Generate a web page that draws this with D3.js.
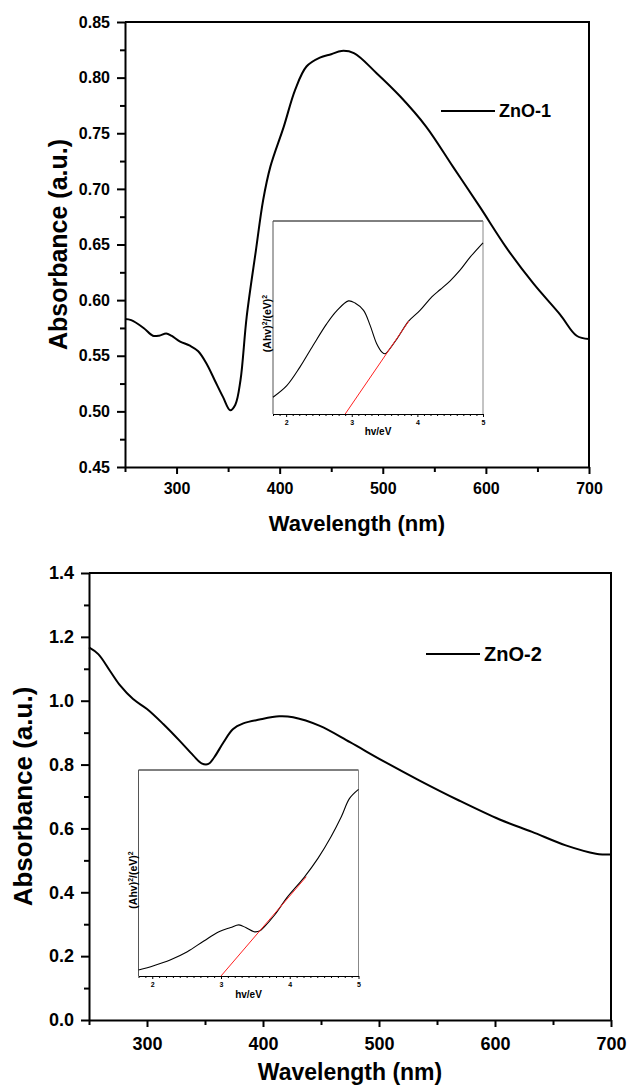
<!DOCTYPE html>
<html>
<head>
<meta charset="utf-8">
<script src="https://cdn.jsdelivr.net/npm/d3@7"></script>
<style>
  body { margin: 0; background: #fff; }
  svg { display: block; font-family: "Liberation Sans", Arial, sans-serif; }
</style>
</head>
<body>
<div id="chart"></div>
<script>
// ZnO-1 absorption spectrum
const zno1Wavelength = [250, 256, 268, 277, 283, 290, 295, 303, 313, 321, 329, 337, 345, 352, 357, 362, 368, 377, 384, 391, 404, 415, 426, 439, 450, 460, 472, 494, 517, 542, 568, 594, 620, 646, 672, 688, 700];
const zno1Abs = [0.583, 0.582, 0.575, 0.568, 0.568, 0.570, 0.568, 0.563, 0.559, 0.554, 0.543, 0.528, 0.513, 0.501, 0.506, 0.528, 0.585, 0.645, 0.690, 0.720, 0.756, 0.789, 0.810, 0.818, 0.821, 0.824, 0.822, 0.804, 0.783, 0.756, 0.720, 0.684, 0.647, 0.615, 0.587, 0.568, 0.565];

// ZnO-2 absorption spectrum
const zno2Wavelength = [250, 258, 268, 277, 288, 300, 314, 328, 340, 347, 353, 358, 366, 374, 383, 397, 414, 426, 449, 475, 503, 535, 569, 604, 632, 661, 687, 700];
const zno2Abs = [1.167, 1.146, 1.094, 1.047, 1.005, 0.974, 0.927, 0.875, 0.828, 0.804, 0.802, 0.823, 0.870, 0.911, 0.929, 0.941, 0.951, 0.948, 0.921, 0.870, 0.8125, 0.75, 0.6875, 0.628, 0.589, 0.547, 0.521, 0.518];

// Tauc plots (insets), y in relative units
const inset1Energy = [1.8, 2.01, 2.21, 2.41, 2.62, 2.77, 2.95, 3.05, 3.18, 3.28, 3.38, 3.46, 3.51, 3.56, 3.69, 3.87, 4.04, 4.22, 4.35, 4.50, 4.65, 4.81, 5.0];
const inset1Value = [0.087, 0.147, 0.243, 0.355, 0.468, 0.534, 0.586, 0.575, 0.537, 0.459, 0.364, 0.321, 0.312, 0.329, 0.390, 0.482, 0.537, 0.607, 0.645, 0.690, 0.745, 0.815, 0.887];
const inset1FitEnergy = [2.90, 3.87];
const inset1FitValue = [0, 0.482];

const inset2Energy = [1.8, 2.02, 2.26, 2.51, 2.75, 2.97, 3.14, 3.26, 3.36, 3.48, 3.56, 3.63, 3.78, 3.97, 4.21, 4.41, 4.60, 4.75, 4.87, 5.0];
const inset2Value = [0.029, 0.050, 0.078, 0.118, 0.170, 0.215, 0.235, 0.248, 0.235, 0.215, 0.218, 0.239, 0.296, 0.385, 0.479, 0.571, 0.676, 0.773, 0.862, 0.906];
const inset2FitEnergy = [3.0, 4.24];
const inset2FitValue = [0, 0.482];

// tick labels
const xTicks = [300, 400, 500, 600, 700];
const xMinor = [250, 350, 450, 550, 650];
const y1Ticks = [0.45, 0.50, 0.55, 0.60, 0.65, 0.70, 0.75, 0.80, 0.85];
const y1Minor = [0.475, 0.525, 0.575, 0.625, 0.675, 0.725, 0.775, 0.825];
const y2Ticks = [0.0, 0.2, 0.4, 0.6, 0.8, 1.0, 1.2, 1.4];
const y2Minor = [0.1, 0.3, 0.5, 0.7, 0.9, 1.1, 1.3];
const insetTicks = [2, 3, 4, 5];
const insetMinor = [1.8, 1.9, 2.1, 2.2, 2.3, 2.4, 2.5, 2.6, 2.7, 2.8, 2.9, 3.1, 3.2, 3.3, 3.4, 3.5, 3.6, 3.7, 3.8, 3.9, 4.1, 4.2, 4.3, 4.4, 4.5, 4.6, 4.7, 4.8, 4.9];

const svg = d3.select('#chart').append('svg')
  .attr('width', 627)
  .attr('height', 1086);

function drawPanel(p) {
  const x = d3.scaleLinear().domain([250, 700]).range([p.left, p.right]);
  const y = d3.scaleLinear().domain(p.yDomain).range([p.bottom, p.top]);
  const g = svg.append('g');

  // frame top + right
  g.append('path')
    .attr('d', `M${p.left},${p.top}H${p.right}V${p.bottom}`)
    .attr('fill', 'none').attr('stroke', '#000').attr('stroke-width', 2);

  // minor ticks
  g.append('g')
    .attr('transform', `translate(0,${p.bottom})`)
    .call(d3.axisBottom(x).tickValues(xMinor).tickSize(5).tickFormat(''))
    .call(a => a.select('.domain').remove())
    .selectAll('line').attr('stroke-width', 2);
  g.append('g')
    .attr('transform', `translate(${p.left},0)`)
    .call(d3.axisLeft(y).tickValues(p.yMinor).tickSize(5).tickFormat(''))
    .call(a => a.select('.domain').remove())
    .selectAll('line').attr('stroke-width', 2);

  // major axes
  const xa = g.append('g')
    .attr('transform', `translate(0,${p.bottom})`)
    .call(d3.axisBottom(x).tickValues(xTicks).tickSize(7).tickSizeOuter(0).tickPadding(p.xPad));
  const ya = g.append('g')
    .attr('transform', `translate(${p.left},0)`)
    .call(d3.axisLeft(y).tickValues(p.yTicks).tickSize(8).tickSizeOuter(0).tickPadding(7).tickFormat(d3.format(p.yFmt)));
  [xa, ya].forEach(a => {
    a.select('.domain').attr('stroke-width', 2);
    a.selectAll('line').attr('stroke-width', 2);
    a.selectAll('text')
      .attr('font-family', '"Liberation Sans", Arial, sans-serif')
      .attr('font-weight', 'bold')
      .attr('font-size', p.tickFont)
      .attr('fill', '#000');
  });

  // curve
  const data = p.xs.map((d, i) => [d, p.ys[i]]);
  g.append('path')
    .datum(data)
    .attr('fill', 'none').attr('stroke', '#000').attr('stroke-width', 2)
    .attr('d', d3.line().x(d => x(d[0])).y(d => y(d[1])).curve(d3.curveCatmullRom.alpha(0.5)));

  // titles
  g.append('text')
    .attr('x', (p.left + p.right) / 2).attr('y', p.xTitleY)
    .attr('text-anchor', 'middle').attr('font-weight', 'bold').attr('font-size', p.xTitleFont)
    .text('Wavelength (nm)');
  g.append('text')
    .attr('transform', `translate(${p.yTitleX},${(p.top + p.bottom) / 2}) rotate(-90)`)
    .attr('text-anchor', 'middle').attr('font-weight', 'bold').attr('font-size', p.yTitleFont)
    .text('Absorbance (a.u.)');

  // legend
  g.append('line')
    .attr('x1', p.legend[0]).attr('x2', p.legend[0] + 54)
    .attr('y1', p.legend[1]).attr('y2', p.legend[1])
    .attr('stroke', '#000').attr('stroke-width', 2);
  g.append('text')
    .attr('x', p.legend[0] + 58).attr('y', p.legend[1] + p.legendFont * 0.36)
    .attr('font-weight', 'bold').attr('font-size', p.legendFont)
    .text(p.name);

  drawInset(p.inset);
}

function drawInset(s) {
  const x = d3.scaleLinear().domain([1.8, 5]).range([s.left, s.right]);
  const y = d3.scaleLinear().domain([0, 1]).range([s.bottom, s.top]);
  const g = svg.append('g');

  g.append('rect')
    .attr('x', s.left).attr('y', s.top)
    .attr('width', s.right - s.left).attr('height', s.bottom - s.top)
    .attr('fill', '#fff');
  g.append('line').attr('x1', s.left).attr('x2', s.right).attr('y1', s.top).attr('y2', s.top)
    .attr('stroke', '#000').attr('stroke-width', 1);
  g.append('line').attr('x1', s.right).attr('x2', s.right).attr('y1', s.top).attr('y2', s.bottom)
    .attr('stroke', '#888').attr('stroke-width', 1);
  g.append('line').attr('x1', s.left).attr('x2', s.left).attr('y1', s.top).attr('y2', s.bottom)
    .attr('stroke', '#555').attr('stroke-width', 1);

  g.append('g')
    .attr('transform', `translate(0,${s.bottom})`)
    .call(d3.axisBottom(x).tickValues(insetMinor).tickSize(2).tickFormat(''))
    .call(a => a.select('.domain').remove());
  const xa = g.append('g')
    .attr('transform', `translate(0,${s.bottom})`)
    .call(d3.axisBottom(x).tickValues(insetTicks).tickSize(3).tickSizeOuter(0).tickPadding(3).tickFormat(d3.format('d')));
  xa.selectAll('text')
    .attr('font-family', '"Liberation Sans", Arial, sans-serif')
    .attr('font-weight', 'bold').attr('font-size', 7).attr('fill', '#000');

  const data = s.xs.map((d, i) => [d, s.ys[i]]);
  g.append('path')
    .datum(data)
    .attr('fill', 'none').attr('stroke', '#000').attr('stroke-width', 1.1)
    .attr('d', d3.line().x(d => x(d[0])).y(d => y(d[1])).curve(d3.curveCatmullRom.alpha(0.5)));

  const fit = s.fitX.map((d, i) => [d, s.fitY[i]]);
  g.append('path')
    .datum(fit)
    .attr('fill', 'none').attr('stroke', '#ff2020').attr('stroke-width', 1)
    .attr('d', d3.line().x(d => x(d[0])).y(d => y(d[1])));

  g.append('text')
    .attr('x', (s.left + s.right) / 2).attr('y', s.bottom + s.titleOff)
    .attr('text-anchor', 'middle').attr('font-weight', 'bold').attr('font-size', 10)
    .text('hv/eV');

  const yt = g.append('text')
    .attr('transform', `translate(${s.left - 2},${(s.top + s.bottom) / 2 + s.yTitleShift}) rotate(-90)`)
    .attr('text-anchor', 'middle').attr('font-weight', 'bold').attr('font-size', 10.5);
  yt.append('tspan').text('(Ahv)');
  yt.append('tspan').attr('dy', -4).attr('font-size', 7).text('2');
  yt.append('tspan').attr('dy', 4).text('/(eV)');
  yt.append('tspan').attr('dy', -4).attr('font-size', 7).text('2');
}

drawPanel({
  name: 'ZnO-1', xs: zno1Wavelength, ys: zno1Abs,
  left: 125, right: 589, top: 22, bottom: 467,
  yDomain: [0.45, 0.85], yTicks: y1Ticks, yMinor: y1Minor, yFmt: '.2f',
  tickFont: 16, xPad: 9,
  xTitleY: 531, xTitleFont: 22, yTitleX: 67, yTitleFont: 25,
  legend: [441, 111], legendFont: 18,
  inset: {
    xs: inset1Energy, ys: inset1Value, fitX: inset1FitEnergy, fitY: inset1FitValue,
    left: 273, right: 483, top: 221, bottom: 414, titleOff: 21, yTitleShift: 6
  }
});

drawPanel({
  name: 'ZnO-2', xs: zno2Wavelength, ys: zno2Abs,
  left: 89, right: 611, top: 573, bottom: 1020,
  yDomain: [0, 1.4], yTicks: y2Ticks, yMinor: y2Minor, yFmt: '.1f',
  tickFont: 18, xPad: 10,
  xTitleY: 1080, xTitleFont: 23, yTitleX: 32, yTitleFont: 26,
  legend: [426, 654], legendFont: 20,
  inset: {
    xs: inset2Energy, ys: inset2Value, fitX: inset2FitEnergy, fitY: inset2FitValue,
    left: 138.5, right: 358.5, top: 770, bottom: 976, titleOff: 22, yTitleShift: 7
  }
});
</script>
</body>
</html>
